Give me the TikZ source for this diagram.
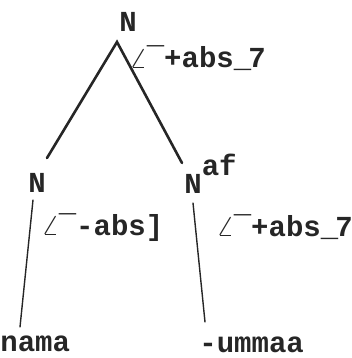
\documentclass[tikz,border=0pt]{standalone}
\usepackage{fontspec}
\setmonofont{Liberation Mono}
\newcommand{\lbrk}{\makebox[0.6em][l]{\boldmath$\angle$}¯}
\newcommand{\rbrk}{\_\kern-0.1em7}

\begin{document}
\begin{tikzpicture}[x=0.5pt, y=-0.5pt,
    lab/.style={font=\ttfamily\bfseries\fontsize{14.5}{16}\selectfont,
                inner sep=0pt, text=black!85},
    cat/.style={lab, anchor=base},
    feat/.style={lab, anchor=base west},
    branch/.style={line width=1.3pt, line cap=round, black!85},
    stem/.style={line width=0.7pt, line cap=round, black!85},
  ]
  \useasboundingbox (0,0) rectangle (352,358);
  % Wurzel
  \node[cat] (root) at (128,32) {N};
  \node[feat] (rootf) at (129,68) {\lbrk+abs\rbrk};
  % Tochterknoten
  \node[cat] (nl) at (37,192) {N};
  \node[feat] (nlf) at (41,235) {\lbrk-abs]};
  \node[lab, anchor=base west] (nr) at (184,193) {N\raisebox{9pt}{af}};
  \node[feat] (nrf) at (216,236) {\lbrk+abs\rbrk};
  % Woerter
  \node[lab, anchor=base west] (nama) at (0,351) {nama};
  \node[lab, anchor=base west] (ummaa) at (199,352) {-ummaa};
  % Aeste
  \coordinate (apex) at (117,42);
  \coordinate (nl-top) at (47,158);
  \coordinate (nr-top) at (182,163);
  \draw[branch] (nl-top) -- (apex) -- (nr-top);
  \coordinate (nl-bot) at (33,200);
  \coordinate (nama-top) at (20,327);
  \coordinate (nr-bot) at (193,203);
  \coordinate (ummaa-top) at (205,322);
  \draw[stem] (nl-bot) -- (nama-top);
  \draw[stem] (nr-bot) -- (ummaa-top);
\end{tikzpicture}
\end{document}
